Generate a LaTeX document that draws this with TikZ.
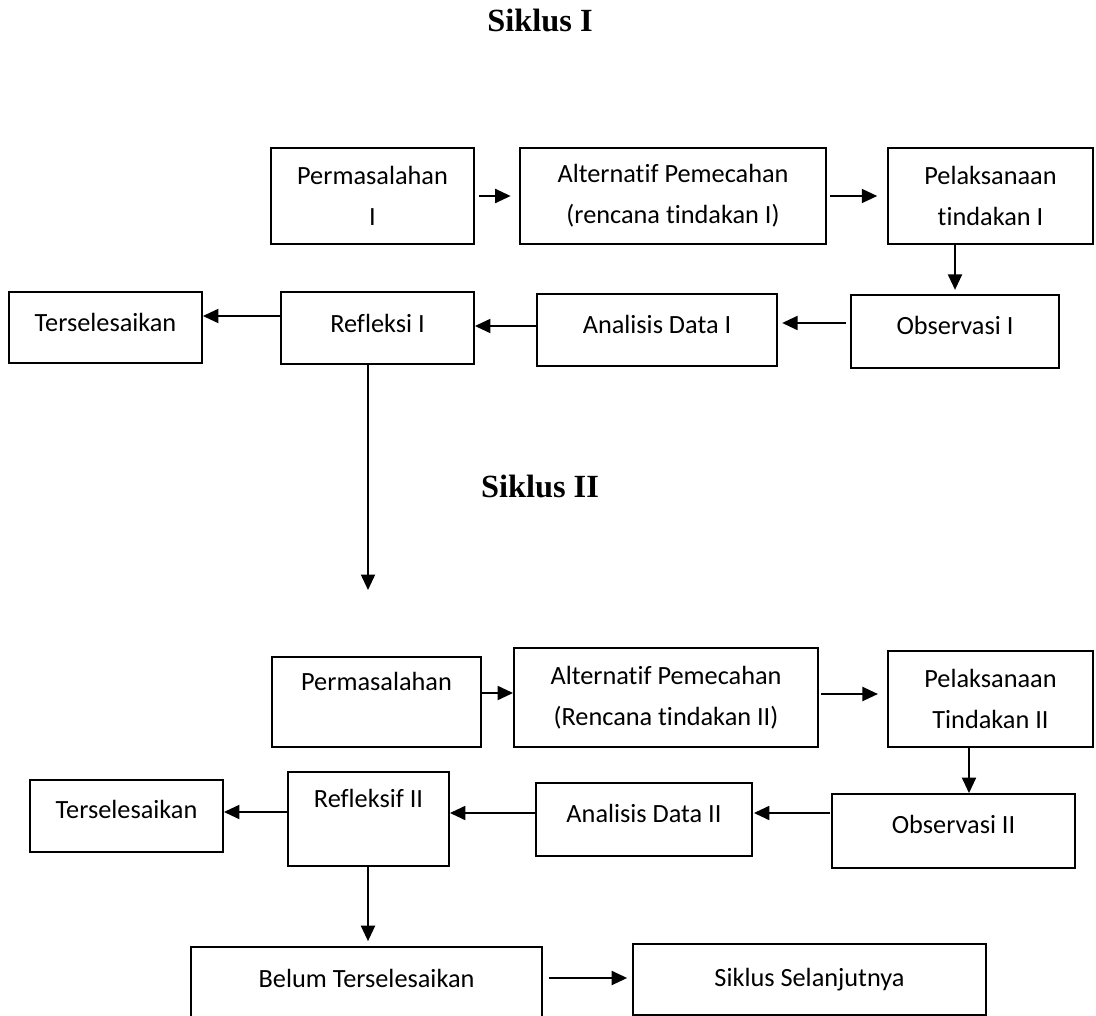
\documentclass[tikz,border=0pt]{standalone}
\usepackage{fontspec}
\setmainfont{Carlito}[Ligatures=NoCommon]
\newfontfamily\serifjudul{Liberation Serif}
\usetikzlibrary{arrows.meta,calc}
\tikzset{
  >={Triangle[length=11pt,width=10pt]},
  kotak/.style 2 args={draw,line width=1.3pt,inner sep=0pt,align=center,
    minimum width=#1*0.7113pt,minimum height=#2*0.7113pt,
    font=\fontsize{18.7}{29.2}\selectfont},
  naik/.style={text depth=#1},
  naik/.default=8.5pt,
  panah/.style={->,line width=1.3pt},
  judul/.style={font=\serifjudul\bfseries\fontsize{23}{28}\selectfont},
}
\begin{document}
\begin{tikzpicture}[x=0.025cm,y=-0.025cm]
  \useasboundingbox (0,0) rectangle (1096,1016);
  % judul siklus
  \node[judul] (j1) at (540,20) {Siklus I};
  \node[judul] (j2) at (540,486) {Siklus II};
  % siklus I
  \node[kotak={203}{96}] (p1) at (372.5,196) {Permasalahan\\I};
  \node[kotak={306}{96}] (a1) at (673,196) {Alternatif Pemecahan\\(rencana tindakan I)};
  \node[kotak={205}{96}] (l1) at (990.5,196) {Pelaksanaan\\tindakan I};
  \node[kotak={208}{73},naik] (o1) at (955,331.5) {Observasi I};
  \node[kotak={240}{72},naik] (d1) at (657,330) {Analisis Data I};
  \node[kotak={193}{72},naik=7pt] (r1) at (377.5,328) {Refleksi I};
  \node[kotak={193}{71},naik=7pt] (t1) at (105.5,327.5) {Terselesaikan};
  \coordinate (c1) at (368,590);
  \draw[panah,shorten <=3pt,shorten >=6pt] (p1.east) -- (a1.west);
  \draw[panah,shorten <=2pt,shorten >=7pt] (a1.east) -- (l1.west);
  \draw[panah,shorten >=3pt] (o1.north |- l1.south) -- (o1.north);
  \draw[panah,shorten <=3pt,shorten >=3pt] ($(o1.west)+(0,-8.5)$) -- ($(d1.east)+(0,-7)$);
  \draw[panah] ($(d1.west)+(0,-4)$) -- ($(r1.east)+(0,-2)$);
  \draw[panah] ($(r1.west)+(0,-12)$) -- ($(t1.east)+(0,-11.5)$);
  \draw[panah] ($(r1.south)+(-9.5,0)$) -- (c1);
  % siklus II
  \node[kotak={209}{90}] (p2) at (376.5,702) {Permasalahan\\\mbox{}};
  \node[kotak={304}{99}] (a2) at (666,697.5) {Alternatif Pemecahan\\(Rencana tindakan II)};
  \node[kotak={205}{96}] (l2) at (990.5,699) {Pelaksanaan\\Tindakan II};
  \node[kotak={243}{74},naik=9pt] (o2) at (953.5,831) {Observasi II};
  \node[kotak={216}{73},naik] (d2) at (644,819.5) {Analisis Data II};
  \node[kotak={161}{94}] (r2) at (368.5,819) {Refleksif II\\\mbox{}};
  \node[kotak={193}{72},naik=9pt] (t2) at (126.5,816) {Terselesaikan};
  \node[kotak={351}{76},naik=10pt] (b) at (366.5,985) {Belum Terselesaikan};
  \node[kotak={353}{71}] (s) at (809.5,979.5) {Siklus Selanjutnya};
  \draw[panah] ($(p2.east)+(0,-9)$) -- ($(a2.west)+(0,-4.5)$);
  \draw[panah,shorten <=1.5pt,shorten >=6.5pt] ($(a2.east)+(0,-3.5)$) -- ($(l2.west)+(0,-5)$);
  \draw[panah] ($(l2.south)+(-21.5,0)$) -- ($(o2.north)+(15.5,0)$);
  \draw[panah,shorten <=0.7pt,shorten >=0.7pt] ($(o2.west)+(0,-18)$) -- ($(d2.east)+(0,-6.5)$);
  \draw[panah] ($(d2.west)+(0,-6.5)$) -- ($(r2.east)+(0,-6)$);
  \draw[panah] ($(r2.west)+(0,-7)$) -- ($(t2.east)+(0,-4)$);
  \draw[panah,shorten >=3.5pt] ($(r2.south)+(-0.5,0)$) -- ($(b.north)+(1.5,0)$);
  \draw[panah,shorten <=4pt,shorten >=3.5pt] ($(b.east)+(0,-7)$) -- ($(s.west)+(0,-1.5)$);
\end{tikzpicture}
\end{document}
